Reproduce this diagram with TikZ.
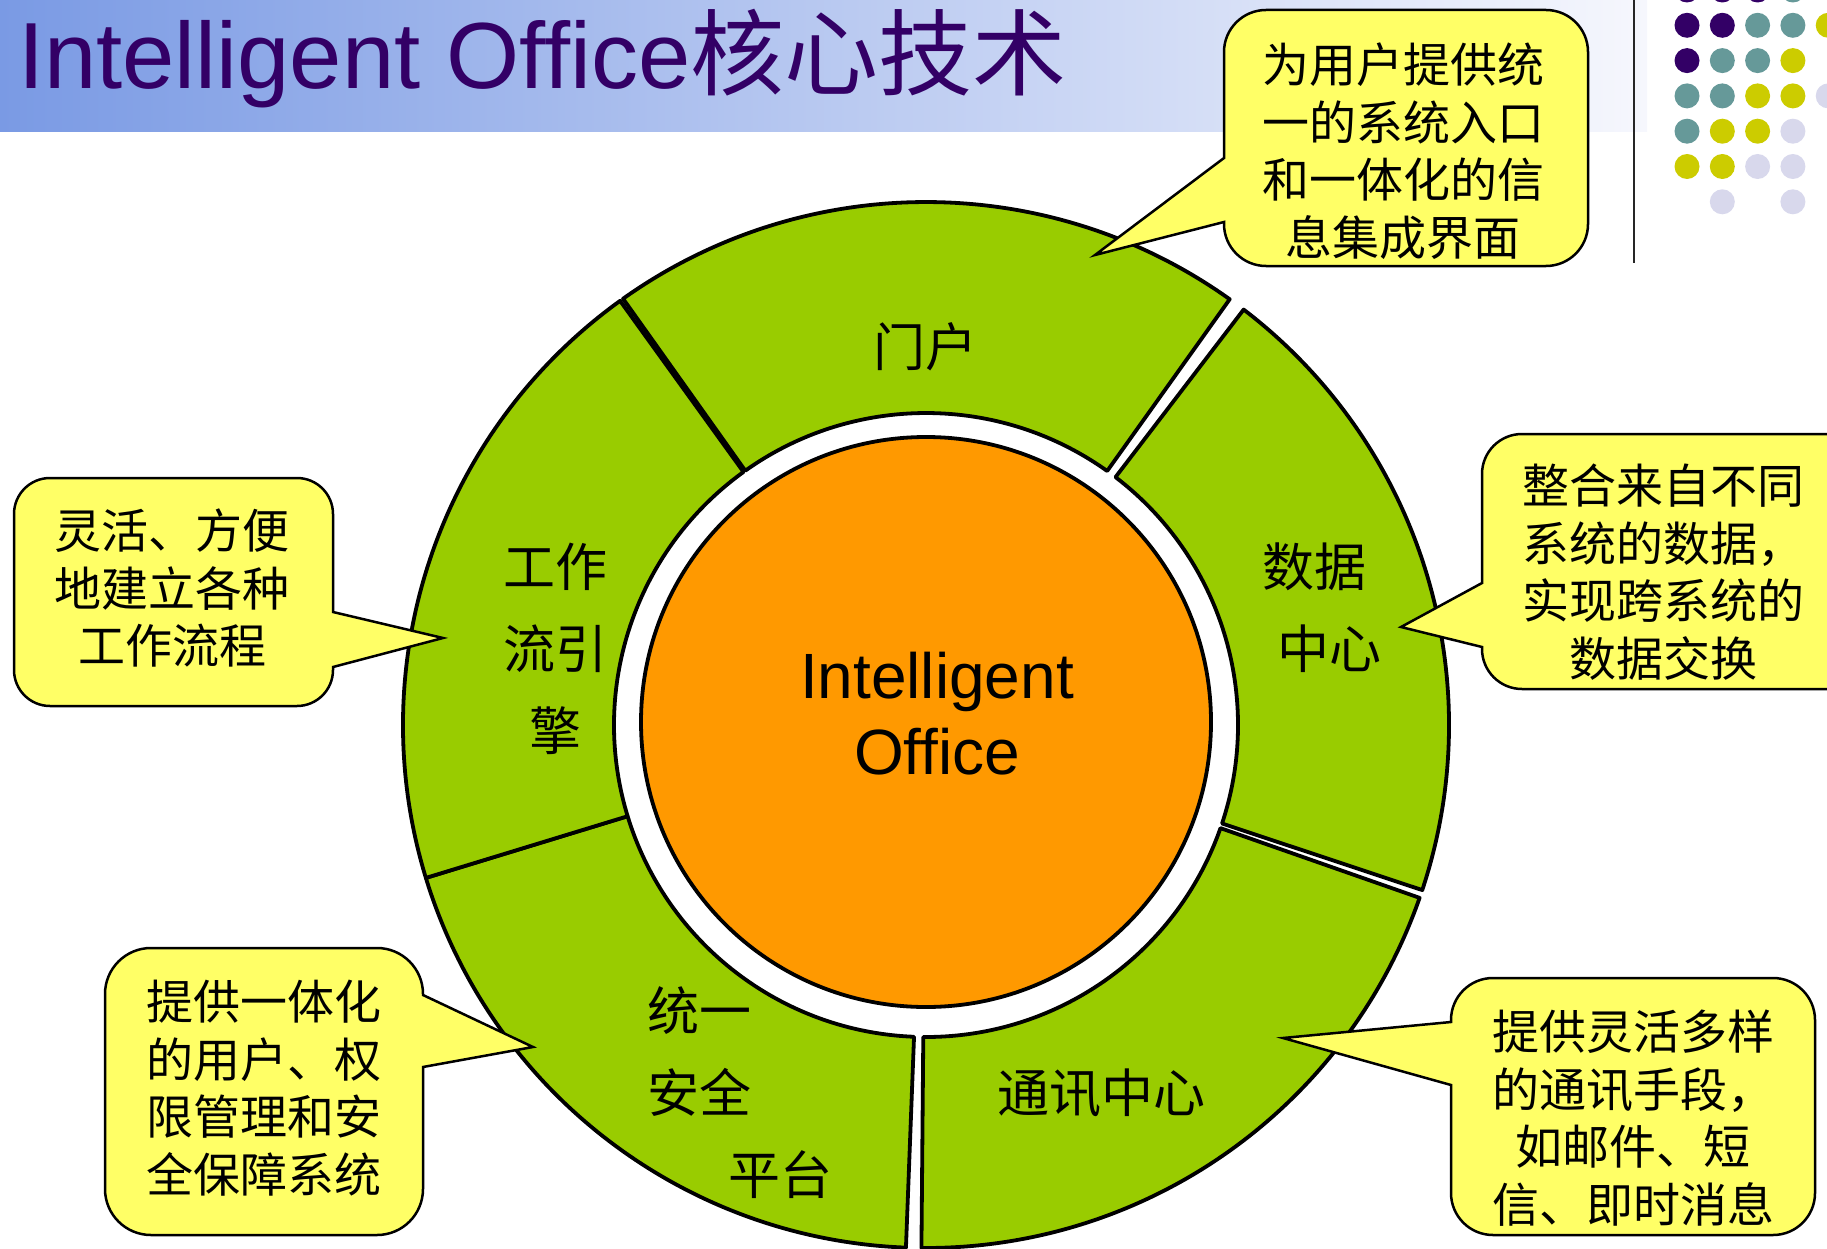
\documentclass[tikz,border=0pt]{standalone}
\usepackage{fontspec}
\setmainfont{Liberation Sans}
\newfontfamily\cjk{Noto Sans CJK SC}
\usetikzlibrary{calc}

\definecolor{bandblue}{RGB}{122,154,228}
\definecolor{bandend}{RGB}{246,247,253}
\definecolor{titlepurple}{RGB}{51,0,102}
\definecolor{segreen}{RGB}{153,204,0}
\definecolor{coreorange}{RGB}{255,153,0}
\definecolor{tipyellow}{RGB}{255,255,102}
\definecolor{dotP}{RGB}{51,0,102}
\definecolor{dotT}{RGB}{102,153,153}
\definecolor{dotY}{RGB}{204,204,0}
\definecolor{dotL}{RGB}{216,216,236}

\tikzset{seg/.style={draw=black,fill=segreen,line width=3.8pt,line join=round}}
\tikzset{core/.style={circle,draw=black,fill=coreorange,line width=3.8pt,minimum size=570pt,inner sep=0pt}}
\tikzset{bubble/.style={draw=black,fill=tipyellow,line width=2.5pt,line join=miter}}
\tikzset{seglbl/.style={font=\cjk\fontsize{52}{82}\selectfont,align=center,inner sep=0pt}}
\tikzset{tiplbl/.style={font=\cjk\fontsize{47}{57.5}\selectfont,align=center,inner sep=0pt}}
\tikzset{dot/.style={circle,inner sep=0pt,minimum size=25pt}}

\begin{document}
\begin{tikzpicture}[x=1pt,y=-1pt]
\useasboundingbox (0,0) rectangle (1827,1249);
\clip (0,0) rectangle (1827,1249);
% title band
\shade[left color=bandblue,right color=bandend] (0,0) rectangle (1647,132);
\node (title) [anchor=base west,inner sep=0pt,text=titlepurple,font=\fontsize{94}{110}\selectfont] at (18,89) {Intelligent Office{\cjk 核心技术}};
\draw[line width=2.5pt,black!85] (1634,0) -- (1634,263);
\foreach \c/\r/\col in {0/0/dotP,1/0/dotP,2/0/dotP,3/0/dotT,
  0/1/dotP,1/1/dotP,2/1/dotT,3/1/dotT,4/1/dotY,
  0/2/dotP,1/2/dotT,2/2/dotT,3/2/dotY,
  0/3/dotT,1/3/dotT,2/3/dotY,3/3/dotY,4/3/dotL,
  0/4/dotT,1/4/dotY,2/4/dotY,3/4/dotL,
  0/5/dotY,1/5/dotY,2/5/dotL,3/5/dotL,
  1/6/dotL,3/6/dotL}
  \node (dot-\c-\r) [dot,fill=\col] at (1687+35.3*\c,-10+35.3*\r) {};

% ring of five parts
\coordinate (ctr) at (926,725);
\foreach \a/\b in {234.6/305.5,307.4/378.4,19.3/90.5,92.2/163,163/234.2}
  \draw[seg] ($(ctr)+(\a:523)$) arc[start angle=\a,end angle=\b,radius=523]
    -- ($(ctr)+(\b:312)$) arc[start angle=\b,end angle=\a,radius=312] -- cycle;
\node (core) [core] at (926,722) {};
\node (coretxt) [align=center,inner sep=0pt,font=\fontsize{64}{76}\selectfont] at (937,714) {Intelligent\\Office};

\node (lblPortal) [seglbl] at (925,347) {门户};
\node (lblFlow) [seglbl] at (555,649) {工作\\流引\\擎};
\node (lblData) [seglbl] at (1314,608) {数据\\\hspace*{30pt}中心};
\node (lblSafe) [seglbl,align=left] at (740,1093) {统一\\安全\\\hspace*{81pt}平台};
\node (lblComm) [seglbl] at (1101,1093) {通讯中心};

% callouts
\draw[bubble] (1224,158) -- (1224,52) arc[start angle=180,end angle=270,radius=42]
  -- (1546,10) arc[start angle=270,end angle=360,radius=42]
  -- (1588,224) arc[start angle=0,end angle=90,radius=42]
  -- (1266,266) arc[start angle=90,end angle=180,radius=42]
  -- (1224,222) -- (1095,255) -- cycle;
\draw[bubble] (1482,583) -- (1482,474) arc[start angle=180,end angle=270,radius=40]
  -- (1840,434) arc[start angle=270,end angle=360,radius=40]
  -- (1880,649) arc[start angle=0,end angle=90,radius=40]
  -- (1522,689) arc[start angle=90,end angle=180,radius=40]
  -- (1482,647) -- (1401,627) -- cycle;
\draw[bubble] (1451,1022) -- (1451,1020) arc[start angle=180,end angle=270,radius=42]
  -- (1773,978) arc[start angle=270,end angle=360,radius=42]
  -- (1815,1193) arc[start angle=0,end angle=90,radius=42]
  -- (1493,1235) arc[start angle=90,end angle=180,radius=42]
  -- (1451,1085) -- (1283,1038) -- cycle;
\draw[bubble] (333,667) -- (333,670) arc[start angle=0,end angle=90,radius=36]
  -- (50,706) arc[start angle=90,end angle=180,radius=36]
  -- (14,514) arc[start angle=180,end angle=270,radius=36]
  -- (297,478) arc[start angle=270,end angle=360,radius=36]
  -- (333,612) -- (443,638) -- cycle;
\draw[bubble] (423,1067) -- (423,1189) arc[start angle=0,end angle=90,radius=46]
  -- (151,1235) arc[start angle=90,end angle=180,radius=46]
  -- (105,994) arc[start angle=180,end angle=270,radius=46]
  -- (377,948) arc[start angle=270,end angle=360,radius=46]
  -- (423,995) -- (533,1047) -- cycle;

\node (tipPortal) [tiplbl] at (1403,151) {为用户提供统\\一的系统入口\\和一体化的信\\息集成界面};
\node (tipFlow) [tiplbl] at (172,588) {灵活、方便\\地建立各种\\工作流程};
\node (tipData) [tiplbl] at (1663,572) {整合来自不同\\系统的数据，\\实现跨系统的\\数据交换};
\node (tipSafe) [tiplbl] at (264,1088) {提供一体化\\的用户、权\\限管理和安\\全保障系统};
\node (tipComm) [tiplbl] at (1633,1118) {提供灵活多样\\的通讯手段，\\如邮件、短\\信、即时消息};
\end{tikzpicture}
\end{document}
